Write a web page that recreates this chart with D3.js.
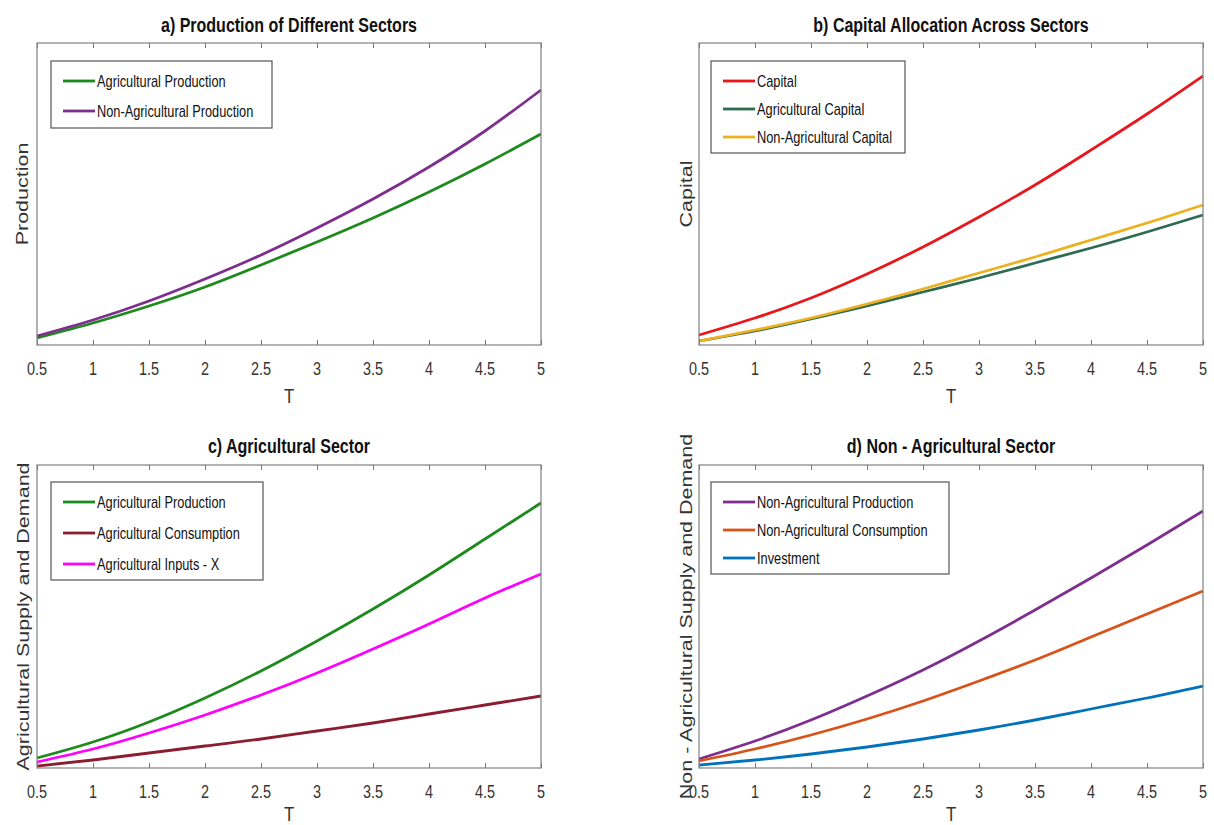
<!DOCTYPE html>
<html>
<head>
<meta charset="utf-8">
<script src="https://cdn.jsdelivr.net/npm/d3@7/dist/d3.min.js"></script>
<style>
  body { margin: 0; background: #fff; }
  text { font-family: "Liberation Sans", Arial, Helvetica, sans-serif; fill: #262626; }
</style>
</head>
<body>
<div id="chart"></div>
<script>
// time axis
var tValues = [0.5, 1, 1.5, 2, 2.5, 3, 3.5, 4, 4.5, 5]
var tTicks = [0.5, 1, 1.5, 2, 2.5, 3, 3.5, 4, 4.5, 5]

// values (no units on the y axes, so relative levels)
// a) production
var prodAgri = [7, 22, 39, 58, 80, 103, 127, 153, 181, 211]
var prodNonAgri = [9, 25, 44, 66, 90, 117, 146, 178, 214, 255]
// b) capital
var capTotal = [10, 27, 47, 71, 98, 128, 160, 195, 231, 269]
var capAgri = [4, 14, 26, 39, 53, 67, 82, 97, 113, 130]
var capNonAgri = [4, 15, 27, 41, 56, 72, 88, 105, 122, 140]
// c) agricultural sector
var agriProduction = [10, 26, 46, 70, 97, 127, 159, 193, 229, 265]
var agriConsumption = [2, 8, 15, 22, 29, 37, 45, 54, 63, 72]
var agriInputs = [6, 19, 35, 53, 73, 95, 119, 144, 170, 194]
// d) non-agricultural sector
var nonAgriProduction = [9, 27, 48, 72, 98, 127, 158, 190, 223, 257]
var nonAgriConsumption = [7, 19, 33, 49, 67, 87, 108, 131, 154, 177]
var investment = [3, 8, 14, 21, 29, 38, 48, 59, 70, 82]

var width = 1214, height = 825
var squeeze = 0.8 // the original figure is squashed horizontally

var svg = d3.select("#chart")
    .append("svg")
    .attr("width", width)
    .attr("height", height)

svg.append("rect")
    .attr("width", "100%")
    .attr("height", "100%")
    .attr("fill", "#fff")

var panels = [
    {
        title: "a) Production of Different Sectors", ylabel: "Production",
        box: { left: 37, right: 541, top: 43, bottom: 345 }, ymax: 302,
        titleY: 32, tickY: 375, xlabelY: 403, ylabelX: 28,
        legend: { x: 51, y: 61, w: 221, h: 67, step: 30 },
        series: [
            { name: "Agricultural Production", values: prodAgri, color: "#1e8a1e" },
            { name: "Non-Agricultural Production", values: prodNonAgri, color: "#7e2f8e" }
        ]
    },
    {
        title: "b) Capital Allocation Across Sectors", ylabel: "Capital",
        box: { left: 699, right: 1203, top: 43, bottom: 345 }, ymax: 302,
        titleY: 32, tickY: 375, xlabelY: 403, ylabelX: 692,
        legend: { x: 711, y: 61, w: 194, h: 92, step: 28 },
        series: [
            { name: "Capital", values: capTotal, color: "#e8171c" },
            { name: "Agricultural Capital", values: capAgri, color: "#2f6b52" },
            { name: "Non-Agricultural Capital", values: capNonAgri, color: "#edb120" }
        ]
    },
    {
        title: "c) Agricultural Sector", ylabel: "Agricultural Supply and Demand",
        box: { left: 37, right: 541, top: 465, bottom: 768 }, ymax: 303,
        titleY: 453, tickY: 798, xlabelY: 821, ylabelX: 29,
        legend: { x: 51, y: 482, w: 212, h: 98, step: 31 },
        series: [
            { name: "Agricultural Production", values: agriProduction, color: "#1e8a1e" },
            { name: "Agricultural Consumption", values: agriConsumption, color: "#8c1c30" },
            { name: "Agricultural Inputs - X", values: agriInputs, color: "#ff00ff" }
        ]
    },
    {
        title: "d) Non - Agricultural Sector", ylabel: "Non - Agricultural Supply and Demand",
        box: { left: 699, right: 1203, top: 465, bottom: 768 }, ymax: 303,
        titleY: 453, tickY: 798, xlabelY: 821, ylabelX: 692,
        legend: { x: 711, y: 482, w: 238, h: 92, step: 28 },
        series: [
            { name: "Non-Agricultural Production", values: nonAgriProduction, color: "#7e2f8e" },
            { name: "Non-Agricultural Consumption", values: nonAgriConsumption, color: "#d95319" },
            { name: "Investment", values: investment, color: "#0072bd" }
        ]
    }
]

// horizontal text, narrowed like the original
function narrowText(g, x, y, str, size, weight, anchor) {
    return g.append("text")
        .attr("transform", "translate(" + x + "," + y + ") scale(" + squeeze + ",1)")
        .attr("text-anchor", anchor || "middle")
        .style("font-size", size + "px")
        .style("font-weight", weight || "normal")
        .text(str)
}

panels.forEach(function(p) {
    var b = p.box
    var g = svg.append("g")

    var x = d3.scaleLinear().domain([0.5, 5]).range([b.left, b.right])
    var y = d3.scaleLinear().domain([0, p.ymax]).range([b.bottom, b.top])

    // lines
    var line = d3.line()
        .x(function(d, i) { return x(tValues[i]) })
        .y(function(d) { return y(d) })
        .curve(d3.curveNatural)

    g.selectAll(".series")
        .data(p.series)
        .enter().append("path")
        .attr("d", function(s) { return line(s.values) })
        .style("fill", "none")
        .style("stroke", function(s) { return s.color })
        .style("stroke-width", 2.8)

    // bottom and top ticks (inward), labels only at the bottom
    var bottomAxis = d3.axisBottom(x).tickValues(tTicks).tickSize(-5).tickFormat("")
    var topAxis = d3.axisTop(x).tickValues(tTicks).tickSize(-5).tickFormat("")
    g.append("g").attr("transform", "translate(0," + b.bottom + ")").call(bottomAxis)
    g.append("g").attr("transform", "translate(0," + b.top + ")").call(topAxis)
    g.selectAll(".domain").remove()
    g.selectAll(".tick line").attr("stroke", "#777").attr("stroke-width", 1)

    tTicks.forEach(function(t) {
        narrowText(g, x(t), p.tickY, String(t), 18)
            .style("fill", "#333")
    })

    // box
    g.append("rect")
        .attr("x", b.left)
        .attr("y", b.top)
        .attr("width", b.right - b.left)
        .attr("height", b.bottom - b.top)
        .attr("fill", "none")
        .attr("stroke", "#808080")
        .attr("stroke-width", 1.2)

    // titles and labels
    narrowText(g, (b.left + b.right) / 2, p.titleY, p.title, 20, "bold")
        .style("fill", "#111")
    narrowText(g, (b.left + b.right) / 2, p.xlabelY, "T", 21)
        .style("fill", "#333")

    g.append("text")
        .attr("transform", "translate(" + p.ylabelX + "," + ((b.top + b.bottom) / 2) + ") scale(" + squeeze + ",1) rotate(-90)")
        .attr("text-anchor", "middle")
        .style("font-size", "21.5px")
        .style("fill", "#333")
        .text(p.ylabel)

    // legend
    var L = p.legend
    var leg = g.append("g")
    leg.append("rect")
        .attr("x", L.x)
        .attr("y", L.y)
        .attr("width", L.w)
        .attr("height", L.h)
        .attr("fill", "#fff")
        .attr("stroke", "#555")
        .attr("stroke-width", 1.2)

    p.series.forEach(function(s, i) {
        var ry = L.y + 20 + i * L.step
        leg.append("line")
            .attr("x1", L.x + 12)
            .attr("x2", L.x + 44)
            .attr("y1", ry)
            .attr("y2", ry)
            .style("stroke", s.color)
            .style("stroke-width", 2.8)
        narrowText(leg, L.x + 46, ry + 5.5, s.name, 16, "normal", "start")
            .style("fill", "#111")
    })
})
</script>
</body>
</html>
